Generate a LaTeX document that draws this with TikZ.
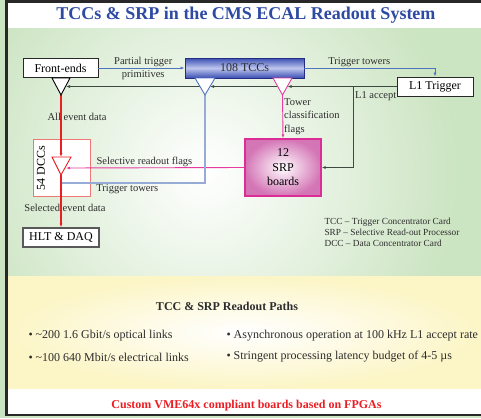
\documentclass[tikz,border=0pt]{standalone}
\usepackage{fontspec}
\setmainfont{Liberation Serif}
\usepackage{xcolor}
\usetikzlibrary{arrows.meta}

\definecolor{panelgreen}{RGB}{203,228,193}
\definecolor{panelyellow}{RGB}{252,245,198}
\definecolor{titleblue}{RGB}{45,75,165}
\definecolor{tccblue}{RGB}{58,78,178}
\definecolor{tccinner}{RGB}{190,198,238}
\definecolor{tccedge}{RGB}{35,45,130}
\definecolor{linkblue}{RGB}{80,115,190}
\definecolor{ttblue}{RGB}{150,172,215}
\definecolor{srppink}{RGB}{212,118,182}
\definecolor{srpedge}{RGB}{220,45,150}
\definecolor{flagpink}{RGB}{230,60,160}
\definecolor{evtred}{RGB}{235,30,35}
\definecolor{dccred}{RGB}{240,120,120}
\definecolor{ctrlgray}{RGB}{60,75,65}
\definecolor{framegray}{RGB}{40,40,40}
\definecolor{textgray}{RGB}{45,45,45}

\begin{document}
\begin{tikzpicture}[x=1pt, y=-1pt,
    >={Latex[length=4pt, width=3pt]},
    box/.style={draw=framegray, fill=white, line width=0.9pt, inner sep=0pt,
                minimum height=19pt, font=\fontsize{12}{14}\selectfont},
    lbl/.style={inner sep=1pt, text=textgray, font=\fontsize{10.5}{13}\selectfont},
    prim/.style={draw=linkblue, line width=0.8pt},
    ctrl/.style={draw=ctrlgray, line width=0.8pt},
    flag/.style={draw=flagpink, line width=0.9pt},
    evt/.style={draw=evtred, line width=2pt},
    ttback/.style={draw=ttblue, line width=1.3pt},
    tri/.style={fill=white, line width=0.9pt, line join=miter},
    bullet/.style={anchor=west, text=textgray, font=\fontsize{12}{14}\selectfont}]
    \useasboundingbox (0,0) rectangle (481,418);
    \fill[panelgreen] (0,0) rectangle (481,418);
    \fill[white] (6,1) rectangle (481,415);
    \fill[panelgreen] (7,28) rectangle (481,276);
    \begin{scope}
        \clip (7,28) rectangle (481,276);
        \shade[inner color=white, outer color=panelgreen] (205,172) circle[radius=255pt];
    \end{scope}
    \shade[inner color=white, outer color=panelyellow] (7,276) rectangle (481,388);
    \draw[framegray, line width=2.5pt] (481,1.25) -- (6.25,1.25) -- (6.25,415) -- (481,415);

    \node[text=titleblue, font=\fontsize{18}{20}\selectfont\bfseries] (title) at (246,15) {TCCs \& SRP in the CMS ECAL Readout System};

    \node[box, minimum width=75pt] (fe) at (60.5,68) {Front-ends};
    \node[box, minimum width=119pt, minimum height=20pt, draw=tccedge, text=textgray,
          top color=tccblue, bottom color=tccblue, middle color=tccinner] (tcc) at (244.5,68) {108 TCCs};
    \node[box, minimum width=76pt] (l1) at (435,86.5) {L1 Trigger};
    \node[box, draw=black!65, line width=1.3pt, minimum width=76pt] (hlt) at (61,237.5) {HLT \& DAQ};
    \node[box, draw=srpedge, line width=1.4pt, minimum width=76pt, minimum height=57pt, align=center,
          inner color=white, outer color=srppink, font=\fontsize{12}{14.5}\selectfont] (srp) at (283,167.5) {12\\SRP\\boards};
    \node[box, draw=dccred, line width=1pt, minimum size=57pt] (dcc) at (61.5,167.5) {};
    \node[rotate=90, font=\fontsize{12}{14}\selectfont] (dcclbl) at (41,168) {54 DCCs};

    \coordinate (fetri) at (61,95);
    \coordinate (tcctri) at (205,95);
    \coordinate (srptri) at (282.5,95);
    \coordinate (dcctop) at (61,157);
    \coordinate (dcctri) at (61,175);
    \coordinate (fein) at (66,86.5);
    \coordinate (tccin) at (210,86.5);
    \coordinate (srpin) at (287.5,86.5);
    \coordinate (acc) at (353,86.5);
    \coordinate (dccin) at (66,168);
    \coordinate (ttjoin) at (61,183);
    \coordinate (ttin) at (61,193);

    \draw[prim, ->] (fe) -- (tcc) node[lbl, align=center, pos=0.52] (ptplbl) {Partial trigger\\primitives};
    \draw[prim, ->] (tcc) -| (l1) node[lbl, above, pos=0.21] (ttlbl) {Trigger towers};
    \draw[ctrl, ->] (l1.west) -- (srpin);
    \draw[ctrl, ->] (srpin) -- (tccin);
    \draw[ctrl, ->] (tccin) -- (fein);
    \draw[ctrl, ->] (acc) |- (srp.east);
    \node[lbl, anchor=west] (acclbl) at (354,96) {L1 accept};
    \draw[flag, ->] (srptri) -- (srp.north);
    \node[lbl, anchor=north west, align=left, font=\fontsize{10.5}{13.5}\selectfont] (tcflbl) at (283,97) {Tower\\classification\\flags};
    \draw[flag, ->] (srp.west) -- (dccin) node[lbl, above, pos=0.56] (srflbl) {Selective readout flags};
    \draw[ttback, ->] (tcctri) |- (ttjoin) node[lbl, below, pos=0.77] (ttblbl) {Trigger towers} -- (ttin);
    \draw[evt, ->] (fetri) -- (dcctop);
    \draw[evt, line width=1.5pt, ->] (dcctri) -- (hlt);
    \node[lbl] (aedlbl) at (77,117) {All event data};
    \node[lbl] (sedlbl) at (65,208) {Selected event data};

    \filldraw[tri, draw=black] (52,78) -- (70,78) -- (fetri) -- cycle;
    \filldraw[tri, draw=linkblue] (195,78) -- (215,78) -- (tcctri) -- cycle;
    \filldraw[tri, draw=flagpink] (273,78) -- (292,78) -- (srptri) -- cycle;
    \filldraw[tri, draw=evtred] (52,157) -- (71,157) -- (dcctri) -- cycle;

    \node[anchor=west, align=left, text=textgray, font=\fontsize{9.3}{11}\selectfont] (legend) at (321,232)
        {TCC -- Trigger Concentrator Card\\SRP -- Selective Read-out Processor\\DCC -- Data Concentrator Card};

    \node[text=textgray, font=\fontsize{12}{14}\selectfont\bfseries] (paths) at (227,306) {TCC \& SRP Readout Paths};
    \node[bullet] (optl) at (25,336) {\textbullet\ \textasciitilde200 1.6 Gbit/s optical links};
    \node[bullet] (elel) at (25,357) {\textbullet\ \textasciitilde100 640 Mbit/s electrical links};
    \node[bullet] (async) at (223,336) {\textbullet\ Asynchronous operation at 100 kHz L1 accept rate};
    \node[bullet] (latency) at (223,357) {\textbullet\ Stringent processing latency budget of 4-5 µs};

    \node[text=evtred, font=\fontsize{12}{14}\selectfont\bfseries] (foot) at (246.5,406) {Custom VME64x compliant boards based on FPGAs};
\end{tikzpicture}
\end{document}
